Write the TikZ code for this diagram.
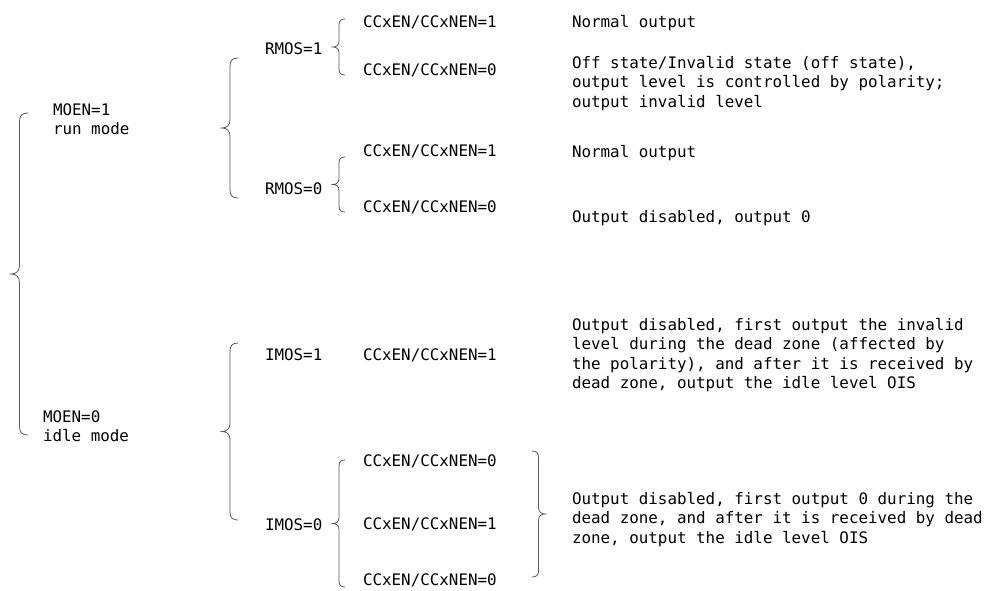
\documentclass[tikz,border=0pt]{standalone}
\usepackage{fontspec}
\setmainfont{DejaVu Sans Mono}
\setmonofont{DejaVu Sans Mono}
\newcommand\mybrace[4]{%
  \draw[brc] (#1,#2) .. controls ({#1-0.7*#4},#2) and ({#1-#4},{#2+0.3*abs(#4)}) .. ({#1-#4},{#2+abs(#4)})
   -- ({#1-#4},{(#2+#3)/2-abs(#4)}) .. controls ({#1-#4},{(#2+#3)/2-0.35*abs(#4)}) and ({#1-1.4*#4},{(#2+#3)/2}) .. ({#1-2*#4},{(#2+#3)/2})
   .. controls ({#1-1.4*#4},{(#2+#3)/2}) and ({#1-#4},{(#2+#3)/2+0.35*abs(#4)}) .. ({#1-#4},{(#2+#3)/2+abs(#4)})
   -- ({#1-#4},{#3-abs(#4)}) .. controls ({#1-#4},{#3-0.3*abs(#4)}) and ({#1-0.7*#4},#3) .. (#1,#3);}
\newcommand\ml[1]{\begin{tabular}[t]{@{}l@{}}#1\end{tabular}}
\begin{document}
\begin{tikzpicture}[x=0.75pt,y=-0.75pt,
  txt/.style={anchor=base west,inner sep=0pt,outer sep=0pt,font=\fontsize{11.9}{14.7}\selectfont},
  brc/.style={draw=black!65,line width=0.6pt}]
\clip (0,0) rectangle (989,590);
\useasboundingbox (0,0) rectangle (989,590);
\fill[white] (0,0) rectangle (989,590);
% braces
\mybrace{28}{113}{435}{8.5}
\mybrace{238}{58}{198}{8}
\mybrace{238}{343}{520}{8}
\mybrace{345}{19}{75}{6}
\mybrace{345}{157}{212}{6}
\mybrace{345}{460}{587}{6}
\mybrace{532}{451}{577}{-6.5}
% texts
\node[txt] (moen1) at (53,115) {\ml{MOEN=1\\run mode}};
\node[txt] (moen0) at (43,422) {\ml{MOEN=0\\idle mode}};
\node[txt] (rmos1) at (265,54) {RMOS=1};
\node[txt] (rmos0) at (265,194) {RMOS=0};
\node[txt] (imos1) at (265,360) {IMOS=1};
\node[txt] (imos0) at (265,530) {IMOS=0};
\node[txt] (c11) at (363,27) {CCxEN/CCxNEN=1};
\node[txt] (c10) at (363,75) {CCxEN/CCxNEN=0};
\node[txt] (c01) at (363,156) {CCxEN/CCxNEN=1};
\node[txt] (c00) at (363,212) {CCxEN/CCxNEN=0};
\node[txt] (ci1) at (363,360) {CCxEN/CCxNEN=1};
\node[txt] (ci00) at (363,466) {CCxEN/CCxNEN=0};
\node[txt] (ci01) at (363,529) {CCxEN/CCxNEN=1};
\node[txt] (ci02) at (363,585.5) {CCxEN/CCxNEN=0};
\node[txt] (o11) at (572,27) {Normal output};
\node[txt] (o10) at (572,68) {\ml{Off state/Invalid state (off state),\\output level is controlled by polarity;\\output invalid level}};
\node[txt] (o01) at (572,157) {Normal output};
\node[txt] (o00) at (572,222) {Output disabled, output 0};
\node[txt] (oi1) at (572,330) {\ml{Output disabled, first output the invalid\\level during the dead zone (affected by\\the polarity), and after it is received by\\dead zone, output the idle level OIS}};
\node[txt] (oi0) at (572,504) {\ml{Output disabled, first output 0 during the\\dead zone, and after it is received by dead\\zone, output the idle level OIS}};
\end{tikzpicture}
\end{document}
